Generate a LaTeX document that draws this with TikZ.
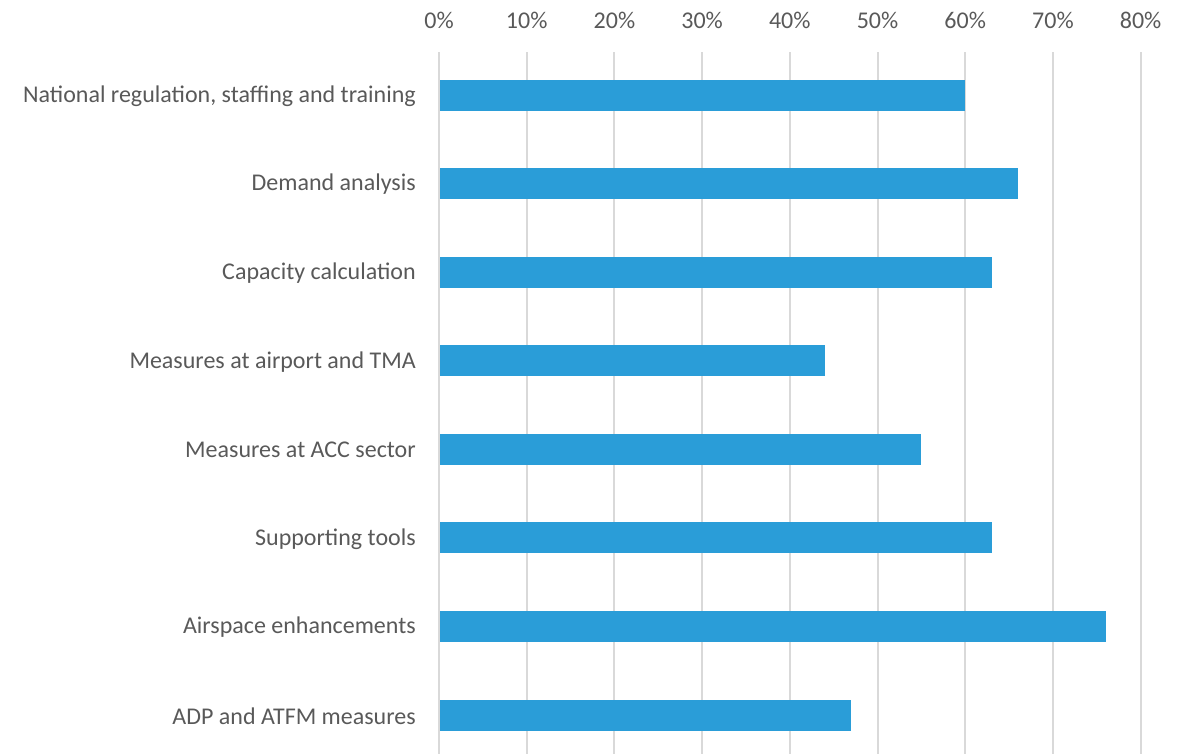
\documentclass[tikz,border=0pt]{standalone}
\usepackage{fontspec}
\setmainfont{Carlito}
\usepackage{xcolor}
\definecolor{BarBlue}{RGB}{42,157,216}
\definecolor{GridGray}{RGB}{217,217,217}
\definecolor{TextGray}{RGB}{89,89,89}
\tikzset{
  bar/.style={fill=BarBlue, draw=none},
  gridline/.style={GridGray, line width=1.5pt},
  catlabel/.style={anchor=east, text=TextGray, font=\fontsize{18}{21}\selectfont, inner sep=0pt},
  ticklabel/.style={anchor=center, text=TextGray, font=\fontsize{18}{21}\selectfont, inner sep=0pt}
}
\begin{document}
\begin{tikzpicture}[x=0.75pt, y=-0.75pt]
\useasboundingbox (0,0) rectangle (1189,754);
% vertical grid and percent scale
\foreach \p [count=\i from 0] in {0,10,...,80} {
  \draw [gridline] (439+87.7*\i,52) -- (439+87.7*\i,754);
  \node [ticklabel] (tick\i) at (439+87.7*\i,20) {\p\%};
}
% bars with their category labels
\foreach \val/\name [count=\k from 0] in {
  60/National regulation{,} staffing and training,
  66/Demand analysis,
  63/Capacity calculation,
  44/Measures at airport and TMA,
  55/Measures at ACC sector,
  63/Supporting tools,
  76/Airspace enhancements,
  47/ADP and ATFM measures} {
  \fill [bar] (440,95+88.57*\k-15.5) rectangle (439+8.77*\val,95+88.57*\k+15.5);
  \node [catlabel] (cat\k) at (416,96+88.57*\k) {\name};
}
\end{tikzpicture}
\end{document}
